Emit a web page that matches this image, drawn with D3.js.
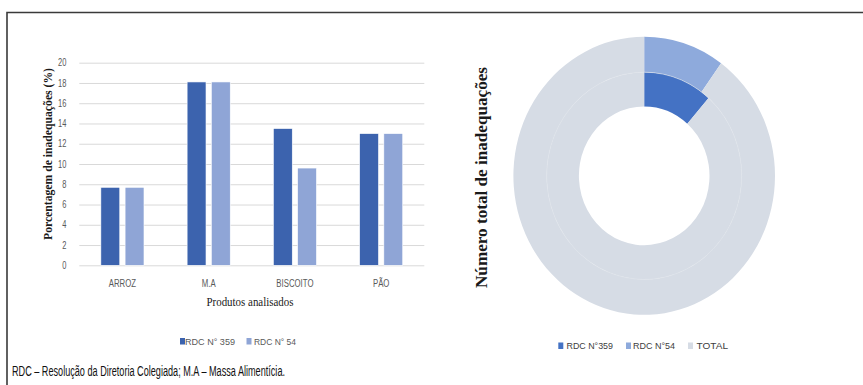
<!DOCTYPE html>
<html>
<head>
<meta charset="utf-8">
<script src="https://cdn.jsdelivr.net/npm/d3@7"></script>
<style>
  html, body { margin: 0; padding: 0; background: #fff; }
  svg { display: block; }
</style>
</head>
<body>
<div id="chart"></div>
<script>
// ─── Data ──────────────────────────────────────────────────────────────
const categories = ['ARROZ', 'M.A', 'BISCOITO', 'PÃO'];
const seriesNames = ['RDC N° 359', 'RDC N° 54'];
const rdc359 = [7.7, 18.1, 13.5, 13.0];
const rdc54 = [7.7, 18.1, 9.6, 13.0];
const yTicks = [0, 2, 4, 6, 8, 10, 12, 14, 16, 18, 20];

const donutCategories = ['RDC N°359', 'RDC N°54', 'TOTAL'];
const donutInner = [7, 0, 54];   // inner ring
const donutOuter = [0, 6, 54];   // outer ring

const W = 863, H = 385;
const dark = '#3c63ae', light = '#8fa5d6';
const donutColors = ['#4472c4', '#8eaadc', '#d6dce5'];
const narrow = '"Liberation Sans Narrow", "Liberation Sans", Arial, sans-serif';
const serif = '"Liberation Serif", "Times New Roman", serif';

const svg = d3.select('#chart').append('svg')
  .attr('width', W).attr('height', H);

// squeeze a text selection horizontally (Calibri-like look)
function condense(sel, k) {
  sel.each(function () {
    const len = this.getComputedTextLength();
    d3.select(this).attr('textLength', len * k).attr('lengthAdjust', 'spacingAndGlyphs');
  });
}

// outer frame (top + left only visible)
svg.append('path')
  .attr('d', `M7,${H} V12.5 H${W}`)
  .attr('fill', 'none').attr('stroke', '#3a3a3a').attr('stroke-width', 1.6);

// ─── Bar chart ─────────────────────────────────────────────────────────
const x0 = d3.scaleBand().domain(categories)
  .range([79.3, 424.3]).paddingInner(0.5).paddingOuter(0.25);
const x1 = d3.scaleBand().domain(seriesNames)
  .range([0, x0.bandwidth()]).paddingInner(0.22);
const y = d3.scaleLinear().domain([0, 20]).range([265.3, 62.7]);

svg.append('g')
  .attr('transform', 'translate(79.3,0)')
  .call(d3.axisLeft(y).tickValues(yTicks).tickSize(-345).tickPadding(13))
  .call(g => {
    g.select('.domain').remove();
    g.selectAll('line').attr('stroke', '#d9d9d9').attr('stroke-width', 1);
    g.selectAll('text').attr('fill', '#595959').attr('font-size', 10)
      .attr('font-family', narrow).call(condense, 0.75);
  });

const rows = categories.map((c, i) => ({ cat: c, vals: [rdc359[i], rdc54[i]] }));
const groups = svg.selectAll('.grp').data(rows).join('g')
  .attr('class', 'grp')
  .attr('transform', d => `translate(${x0(d.cat)},0)`);
groups.selectAll('rect')
  .data(d => d.vals.map((v, j) => ({ s: seriesNames[j], v, j })))
  .join('rect')
  .attr('x', d => x1(d.s))
  .attr('width', x1.bandwidth())
  .attr('y', d => y(d.v))
  .attr('height', d => y(0) - y(d.v))
  .attr('fill', d => d.j === 0 ? dark : light)
  .attr('stroke', '#fff').attr('stroke-width', 0.6);

// category labels
svg.append('g').selectAll('text').data(categories).join('text')
  .attr('x', d => x0(d) + x0.bandwidth() / 2)
  .attr('y', 286.5)
  .attr('text-anchor', 'middle')
  .attr('fill', '#595959').attr('font-size', 10).attr('font-family', narrow)
  .text(d => d)
  .call(condense, 0.78);

// axis titles
svg.append('text')
  .attr('x', 250).attr('y', 305.5)
  .attr('text-anchor', 'middle')
  .attr('font-family', serif).attr('font-size', 12.5).attr('fill', '#1a1a1a')
  .attr('textLength', 87).attr('lengthAdjust', 'spacingAndGlyphs')
  .text('Produtos analisados');

svg.append('text')
  .attr('transform', 'translate(52,154) rotate(-90)')
  .attr('text-anchor', 'middle')
  .attr('font-family', serif).attr('font-size', 12).attr('font-weight', 'bold')
  .attr('fill', '#1a1a1a')
  .attr('textLength', 172).attr('lengthAdjust', 'spacingAndGlyphs')
  .text('Porcentagem de inadequações (%)');

// bar legend
const barLegend = [
  { name: seriesNames[0], color: dark, sx: 180, tx: 185, w: 50 },
  { name: seriesNames[1], color: light, sx: 246.5, tx: 254, w: 42 }
];
barLegend.forEach(l => {
  svg.append('rect').attr('x', l.sx).attr('y', 338).attr('width', 5).attr('height', 6.5)
    .attr('fill', l.color);
  svg.append('text').attr('x', l.tx).attr('y', 344.5)
    .attr('fill', '#595959').attr('font-size', 9.5).attr('font-family', narrow)
    .attr('textLength', l.w).attr('lengthAdjust', 'spacingAndGlyphs')
    .text(l.name);
});

// ─── Donut chart ───────────────────────────────────────────────────────
const pie = d3.pie().sort(null).startAngle(0).endAngle(2 * Math.PI);
const rings = [
  { data: donutInner, r0: 65.3, r1: 97.5 },
  { data: donutOuter, r0: 97.5, r1: 130.8 }
];
const dg = svg.append('g')
  .attr('transform', 'translate(644.2,175.8) scale(1,1.063)');
rings.forEach(ring => {
  const arc = d3.arc().innerRadius(ring.r0).outerRadius(ring.r1);
  dg.append('g').selectAll('path')
    .data(pie(ring.data))
    .join('path')
    .attr('d', arc)
    .attr('fill', (d, i) => donutColors[i]);
});
// faint separator between rings
dg.append('circle').attr('r', 97.5)
  .attr('fill', 'none').attr('stroke', '#dee3ea').attr('stroke-width', 0.6);

svg.append('text')
  .attr('transform', 'translate(487,177.5) rotate(-90)')
  .attr('text-anchor', 'middle')
  .attr('font-family', serif).attr('font-size', 16).attr('font-weight', 'bold')
  .attr('fill', '#1a1a1a')
  .attr('textLength', 221).attr('lengthAdjust', 'spacingAndGlyphs')
  .text('Número total de inadequações');

// donut legend
const donutLegend = [
  { sx: 558.3, tx: 566.5, w: 46.5 },
  { sx: 626, tx: 633, w: 42 },
  { sx: 688, tx: 696.5, w: 31.5 }
];
donutLegend.forEach((l, i) => {
  svg.append('rect').attr('x', l.sx).attr('y', 342.5).attr('width', 5).attr('height', 6.5)
    .attr('fill', donutColors[i]);
  svg.append('text').attr('x', l.tx).attr('y', 349)
    .attr('fill', '#404040').attr('font-size', 9).attr('font-family', narrow)
    .attr('textLength', l.w).attr('lengthAdjust', 'spacingAndGlyphs')
    .text(donutCategories[i]);
});

// ─── Caption ───────────────────────────────────────────────────────────
svg.append('text')
  .attr('x', 12).attr('y', 376)
  .attr('fill', '#111').attr('font-size', 15.5)
  .attr('font-family', '"Liberation Sans", Arial, sans-serif')
  .attr('textLength', 273).attr('lengthAdjust', 'spacingAndGlyphs')
  .text('RDC – Resolução da Diretoria Colegiada; M.A – Massa Alimentícia.');
</script>
</body>
</html>
